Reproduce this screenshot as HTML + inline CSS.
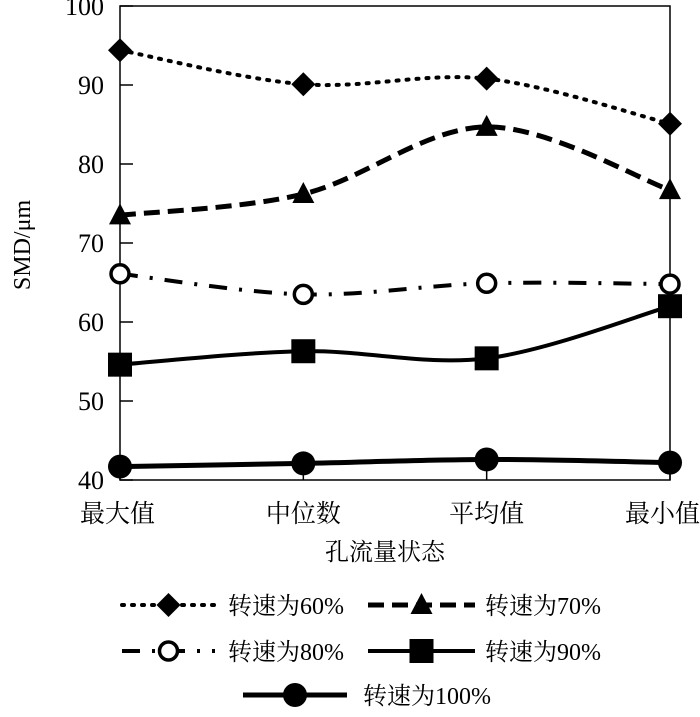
<!DOCTYPE html>
<html><head><meta charset="utf-8"><style>
body{margin:0;background:#fff}
svg text{font-family:"Liberation Serif","Noto Serif CJK SC","Noto Sans CJK SC",serif;fill:#000}
</style></head><body>
<svg id="chart" width="700" height="712" viewBox="0 0 700 712" xmlns="http://www.w3.org/2000/svg">
<g id="axes"></g>
<g id="series"></g>
<g id="legend"></g>
</svg>
<script>
const categories = ["最大值","中位数","平均值","最小值"];
const yTicks = [40,50,60,70,80,90,100];
const s60 = [94.4, 90.1, 90.8, 85.1];
const s70 = [73.5, 76.2, 84.7, 76.7];
const s80 = [66.1, 63.5, 64.9, 64.8];
const s90 = [54.6, 56.3, 55.4, 62.0];
const s100 = [41.7, 42.1, 42.6, 42.2];
const seriesNames = ["转速为60%","转速为70%","转速为80%","转速为90%","转速为100%"];

const NS="http://www.w3.org/2000/svg";
const L=120,R=670,T=6,B=480;
function xS(i){return L+i*(R-L)/(categories.length-1);}
function yS(v){return B-(v-40)/(100-40)*(B-T);}
function el(tag,attrs,parent){const e=document.createElementNS(NS,tag);for(const k in attrs)e.setAttribute(k,attrs[k]);parent.appendChild(e);return e;}
const axes=document.getElementById('axes');
let f=el('rect',{x:L,y:T,width:R-L,height:B-T,fill:'none',stroke:'#000','stroke-width':1.5},axes);


yTicks.forEach(v=>{
  const t=el('line',{x1:L,x2:L+13,y1:yS(v),y2:yS(v),stroke:'#000','stroke-width':1.5},axes);
  
  
  const tx=el('text',{x:L-16,y:yS(v)+9,'text-anchor':'end','font-size':26},axes);
  tx.textContent=v;
  
  
});
categories.forEach((c,i)=>{
  const t=el('line',{x1:xS(i),x2:xS(i),y1:B,y2:B-10,stroke:'#000','stroke-width':1.5},axes);
  
  
  const tx=el('text',{x:i==0?L-40:(i==categories.length-1?R+30:xS(i)),y:522,'text-anchor':i==0?'start':(i==categories.length-1?'end':'middle'),'font-size':25},axes);
  tx.textContent=c;
  
  
});
let xt=el('text',{x:385,y:560,'text-anchor':'middle','font-size':24},axes);
xt.textContent="孔流量状态";


let yt=el('text',{x:0,y:0,'text-anchor':'middle','font-size':24,transform:'translate(30,245) rotate(-90)'},axes);
yt.textContent="SMD/μm";



const styles=[
 {data:s60,dash:'2 8',w:4,cap:'round',m:'diamond'},
 {data:s70,dash:'16 8',w:5,cap:'butt',m:'triangle'},
 {data:s80,dash:'18 12 3 12',w:4,cap:'butt',m:'circle'},
 {data:s90,dash:'',w:4,cap:'butt',m:'square'},
 {data:s100,dash:'',w:5,cap:'butt',m:'dot'}
];
function smooth(pts){
  let d=`M${pts[0][0]},${pts[0][1]}`;
  for(let i=0;i<pts.length-1;i++){
    const p0=pts[Math.max(0,i-1)],p1=pts[i],p2=pts[i+1],p3=pts[Math.min(pts.length-1,i+2)];
    const c1=[p1[0]+(p2[0]-p0[0])/6,p1[1]+(p2[1]-p0[1])/6];
    const c2=[p2[0]-(p3[0]-p1[0])/6,p2[1]-(p3[1]-p1[1])/6];
    d+=` C${c1[0]},${c1[1]} ${c2[0]},${c2[1]} ${p2[0]},${p2[1]}`;
  }
  return d;
}
function marker(type,x,y,parent){
  let e;
  if(type==='diamond') e=el('polygon',{points:`${x},${y-12} ${x+12},${y} ${x},${y+12} ${x-12},${y}`,fill:'#000'},parent);
  else if(type==='triangle') e=el('polygon',{points:`${x},${y-12} ${x+11},${y+9} ${x-11},${y+9}`,fill:'#000'},parent);
  else if(type==='circle') e=el('circle',{cx:x,cy:y,r:9,fill:'#fff',stroke:'#000','stroke-width':3.5},parent);
  else if(type==='square') e=el('rect',{x:x-12,y:y-12,width:24,height:24,fill:'#000'},parent);
  else e=el('circle',{cx:x,cy:y,r:12,fill:'#000'},parent);
  return e;
}
const sg=document.getElementById('series');
styles.forEach((s,k)=>{
  const g=el('g',{},sg);
  
  
  const pts=s.data.map((v,i)=>[xS(i),yS(v)]);
  const p=el('path',{d:smooth(pts),fill:'none',stroke:'#000','stroke-width':s.w,'stroke-dasharray':s.dash,'stroke-linecap':s.cap},g);
  
  
  pts.forEach(pt=>{
    const m=marker(s.m,pt[0],pt[1],g);
    
    
  });
});
const lg=document.getElementById('legend');
const legPos=[[122,215,228,605],[368,475,485,605],[122,215,228,651],[368,475,485,651],[243,347,363,695]];
styles.forEach((s,k)=>{
  const [x1,x2,tx,y]=legPos[k];
  const g=el('g',{},lg);
  
  
  el('line',{x1:x1,x2:x2,y1:y,y2:y,stroke:'#000','stroke-width':s.w,'stroke-dasharray':s.dash,'stroke-linecap':s.cap},g);
  marker(s.m,(x1+x2)/2,y,g);
  const t=el('text',{x:tx,y:y+9,'font-size':24},g);
  t.textContent=seriesNames[k];
});
</script>
</body></html>
